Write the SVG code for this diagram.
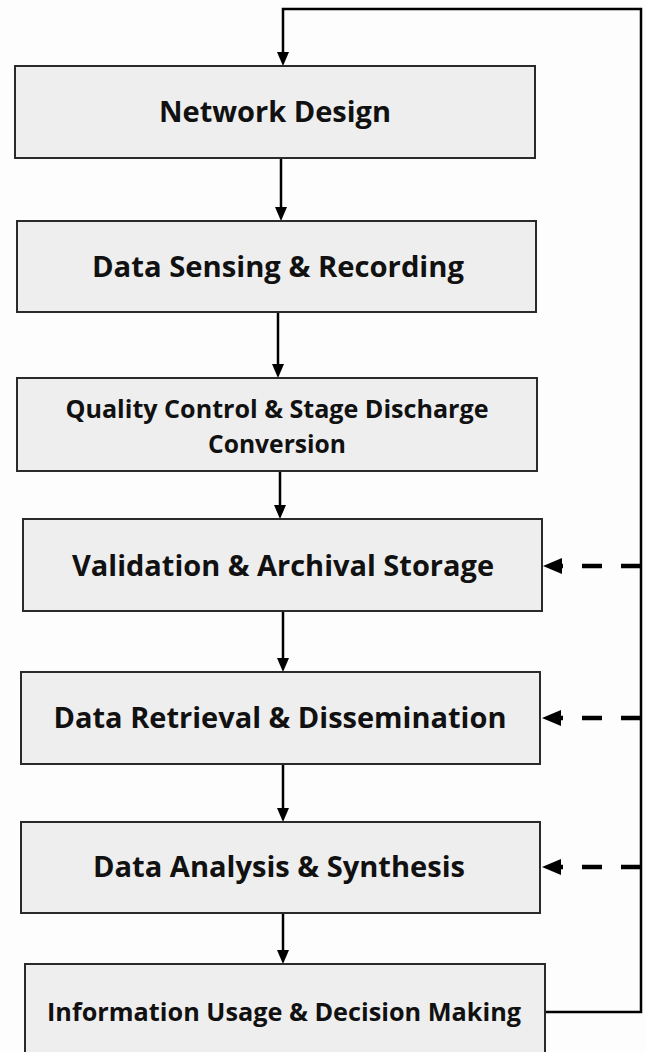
<svg xmlns="http://www.w3.org/2000/svg" width="646" height="1052" viewBox="0 0 646 1052">
<style>
.box{fill:#eeeeee;stroke:#2a2a2a;stroke-width:2}
.t{font-family:"Open Sans","Liberation Sans",sans-serif;font-weight:bold;fill:#111;text-anchor:middle}
.big{font-size:29px}
.small{font-size:25px}
.ln{fill:none;stroke:#000;stroke-width:2.5}
.dash{fill:none;stroke:#000;stroke-width:4.5;stroke-dasharray:20 19}
.ah{fill:#000}
</style>
<rect width="646" height="1052" fill="#fdfdfd"/>
<g id="connectors">
  <polyline class="ln" points="545,1012 641,1012 641,9 283,9 283,52"/>
  <polygon class="ah" points="277,52 289,52 283,66"/>
  <line class="ln" x1="281" y1="158" x2="281" y2="207"/>
  <polygon class="ah" points="275,207 287,207 281,221"/>
  <line class="ln" x1="278" y1="312" x2="278" y2="364"/>
  <polygon class="ah" points="272,364 284,364 278,378"/>
  <line class="ln" x1="280" y1="471" x2="280" y2="505"/>
  <polygon class="ah" points="274,505 286,505 280,519"/>
  <line class="ln" x1="283" y1="611" x2="283" y2="658"/>
  <polygon class="ah" points="277,658 289,658 283,672"/>
  <line class="ln" x1="283" y1="764" x2="283" y2="808"/>
  <polygon class="ah" points="277,808 289,808 283,822"/>
  <line class="ln" x1="283" y1="913" x2="283" y2="950"/>
  <polygon class="ah" points="277,950 289,950 283,964"/>
  <line class="dash" x1="641" y1="566" x2="562" y2="566"/>
  <polygon class="ah" points="543,566 562,558 562,574"/>
  <line class="dash" x1="641" y1="718" x2="561" y2="718"/>
  <polygon class="ah" points="542,718 561,710 561,726"/>
  <line class="dash" x1="641" y1="867" x2="561" y2="867"/>
  <polygon class="ah" points="542,867 561,859 561,875"/>
</g>
<g id="n1"><rect class="box" x="15" y="66" width="520" height="92"/><text class="t big" x="275" y="122" textLength="232" lengthAdjust="spacingAndGlyphs">Network Design</text></g>
<g id="n2"><rect class="box" x="17" y="221" width="519" height="91"/><text class="t big" x="278" y="277" textLength="372" lengthAdjust="spacingAndGlyphs">Data Sensing &amp; Recording</text></g>
<g id="n3"><rect class="box" x="17" y="378" width="520" height="93"/><text class="t small" x="277" y="418" textLength="423" lengthAdjust="spacingAndGlyphs">Quality Control &amp; Stage Discharge</text><text class="t small" x="277" y="453" textLength="138" lengthAdjust="spacingAndGlyphs">Conversion</text></g>
<g id="n4"><rect class="box" x="23" y="519" width="519" height="92"/><text class="t big" x="283" y="576" textLength="422" lengthAdjust="spacingAndGlyphs">Validation &amp; Archival Storage</text></g>
<g id="n5"><rect class="box" x="21" y="672" width="519" height="92"/><text class="t big" x="280" y="728" textLength="453" lengthAdjust="spacingAndGlyphs">Data Retrieval &amp; Dissemination</text></g>
<g id="n6"><rect class="box" x="21" y="822" width="519" height="91"/><text class="t big" x="279" y="877" textLength="372" lengthAdjust="spacingAndGlyphs">Data Analysis &amp; Synthesis</text></g>
<g id="n7"><rect class="box" x="25" y="964" width="520" height="100"/><text class="t small" x="284" y="1021" textLength="474" lengthAdjust="spacingAndGlyphs">Information Usage &amp; Decision Making</text></g>
</svg>
